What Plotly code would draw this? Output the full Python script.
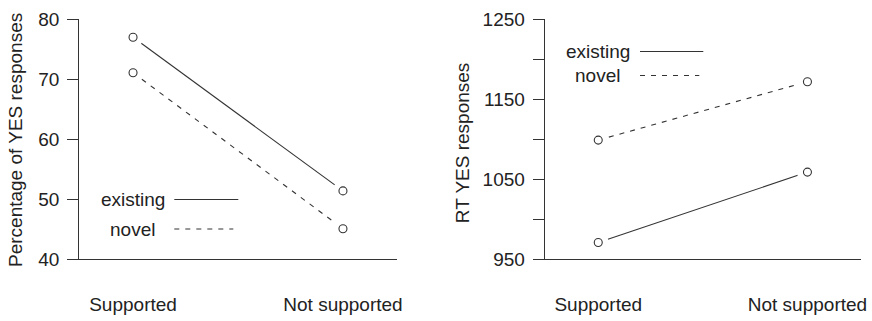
import plotly.graph_objects as go

W, H = 872, 321

categories = ["Supported", "Not supported"]
series_names = ["existing", "novel"]

pct_existing = [77.0, 51.4]
pct_novel = [71.1, 45.1]

rt_existing = [971, 1059]
rt_novel = [1099, 1172]

pct_ticks = [40, 50, 60, 70, 80]
rt_ticks = [950, 1000, 1050, 1100, 1150, 1200, 1250]
rt_ticklabels = ["950", "", "1050", "", "1150", "", "1250"]

TXT = "#222222"
LN = "#333333"
FONT = "Liberation Sans, Arial, sans-serif"
FS = 19

def px(x):
    return x / W

def py(y):
    return 1 - y / H

fig = go.Figure()

xpos = [0, 1]

def add_series(xaxis, yaxis, vals, dash):
    fig.add_trace(go.Scatter(x=xpos, y=vals, mode="lines", xaxis=xaxis, yaxis=yaxis,
                             line=dict(color=LN, width=1.1, dash=dash), showlegend=False,
                             hoverinfo="skip"))

def add_markers(xaxis, yaxis, vals):
    fig.add_trace(go.Scatter(x=xpos, y=vals, mode="markers", xaxis=xaxis, yaxis=yaxis,
                             marker=dict(symbol="circle", size=21, color="white",
                                         line=dict(width=0)),
                             showlegend=False, hoverinfo="skip"))
    fig.add_trace(go.Scatter(x=xpos, y=vals, mode="markers", xaxis=xaxis, yaxis=yaxis,
                             marker=dict(symbol="circle-open", size=8,
                                         color=LN, line=dict(width=1.1, color=LN)),
                             showlegend=False, hoverinfo="skip"))

DASH = "5px,6px"
add_series("x", "y", pct_existing, "solid")
add_series("x", "y", pct_novel, DASH)
add_series("x2", "y2", rt_existing, "solid")
add_series("x2", "y2", rt_novel, DASH)
add_markers("x", "y", pct_existing)
add_markers("x", "y", pct_novel)
add_markers("x2", "y2", rt_existing)
add_markers("x2", "y2", rt_novel)

ydom = [py(259.3), py(19.3)]

xaxis_common = dict(range=[-0.256, 1.256], tickvals=xpos, ticktext=categories,
                    ticks="", showline=True, linecolor=LN, linewidth=1.1,
                    showgrid=False, zeroline=False, ticklabelstandoff=28,
                    automargin=False,
                    tickfont=dict(family=FONT, size=FS, color=TXT))
yaxis_common = dict(showline=True, linecolor=LN, linewidth=1.1, ticks="outside",
                    ticklen=11, tickwidth=1.1, tickcolor=LN, showgrid=False,
                    zeroline=False, ticklabelstandoff=4, automargin=False,
                    tickfont=dict(family=FONT, size=FS, color=TXT))

fig.update_layout(
    width=W, height=H,
    margin=dict(l=0, r=0, t=0, b=0),
    paper_bgcolor="white", plot_bgcolor="white",
    xaxis=dict(domain=[px(79.3), px(396.7)], anchor="y", **xaxis_common),
    yaxis=dict(domain=ydom, anchor="x", range=[40, 80], tickvals=pct_ticks, **yaxis_common),
    xaxis2=dict(domain=[px(544.7), px(861)], anchor="y2", **xaxis_common),
    yaxis2=dict(domain=ydom, anchor="x2", range=[950, 1250], tickvals=rt_ticks,
                ticktext=rt_ticklabels, **yaxis_common),
)

annotations = []
shapes = []

def title(text, cx, cy):
    annotations.append(dict(text=text, x=px(cx), y=py(cy), xref="paper", yref="paper",
                            textangle=-90, showarrow=False, xanchor="center", yanchor="middle",
                            font=dict(family=FONT, size=FS, color=TXT)))

title("Percentage of YES responses", 15, 140)
title("RT YES responses", 462.7, 142.5)

def legend_item(name, text_right, y, x0, x1, dash):
    annotations.append(dict(text=name, x=px(text_right), y=py(y), xref="paper", yref="paper",
                            showarrow=False, xanchor="right", yanchor="middle",
                            font=dict(family=FONT, size=FS, color=TXT)))
    shapes.append(dict(type="line", xref="paper", yref="paper", x0=px(x0), x1=px(x1),
                       y0=py(y), y1=py(y), line=dict(color=LN, width=1.1, dash=dash)))

legend_item(series_names[0], 167, 199.5, 174.3, 238.3, "solid")
legend_item(series_names[1], 157, 229, 174.3, 233.3, DASH)
legend_item(series_names[0], 632, 51.5, 640, 703.3, "solid")
legend_item(series_names[1], 622, 75.5, 640, 699.3, DASH)

fig.update_layout(annotations=annotations, shapes=shapes)

fig.write_html("out.html", config={"displayModeBar": False},
               post_script="document.body.style.margin='0';document.body.style.overflow='hidden';")
